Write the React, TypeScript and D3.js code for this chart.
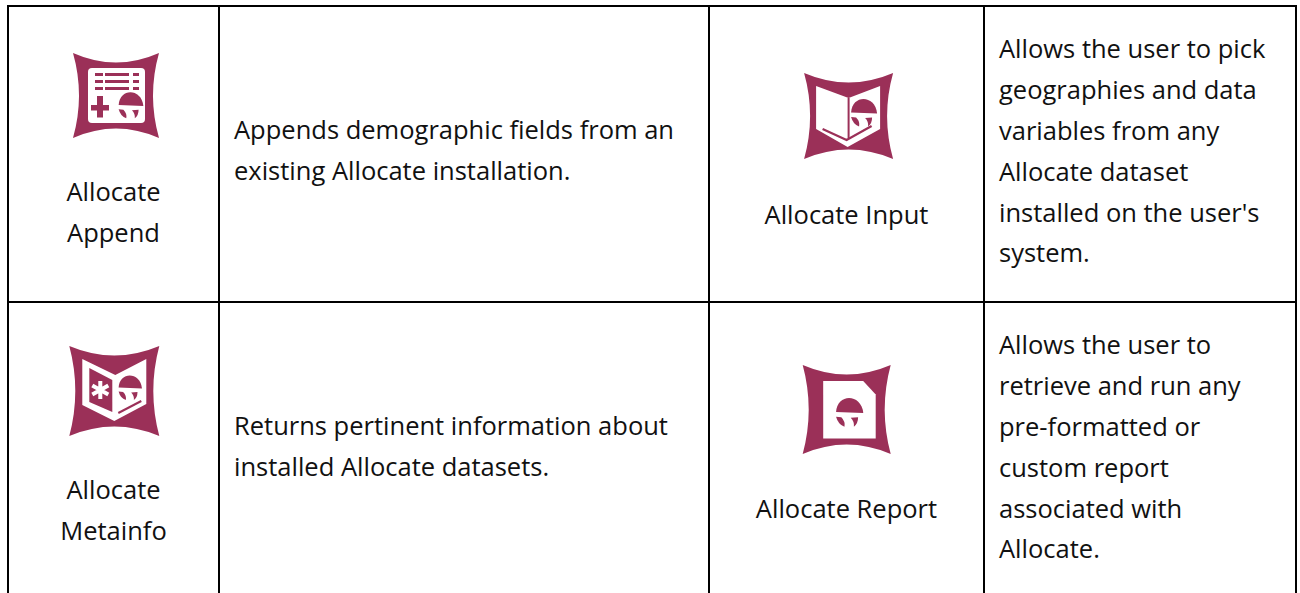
import React from "react";
import * as d3 from "d3";

const W = 1300, H = 593;
const colEdges = [0, 1, 2, 3, 4];
const colPixels = [8, 219, 709, 984, 1296];
const rowEdges = [0, 1, 2];
const rowPixels = [6, 302, 600];
const names = [["Allocate", "Append"], ["Allocate Input"], ["Allocate", "Metainfo"], ["Allocate Report"]];
const nameLineY = [[192, 233], [215], [490, 531], [509]];
const nameColumn = [0.5, 2.5, 0.5, 2.5];
const descriptions = [
  ["Appends demographic fields from an", "existing Allocate installation."],
  ["Allows the user to pick", "geographies and data", "variables from any", "Allocate dataset", "installed on the user's", "system."],
  ["Returns pertinent information about", "installed Allocate datasets."],
  ["Allows the user to", "retrieve and run any", "pre-formatted or", "custom report", "associated with", "Allocate."],
];
const descColumn = [1, 3, 1, 3];
const descFirstLineY = [130, 49, 426, 345];
const iconKinds = ["append", "input", "metainfo", "report"];
const iconCentres: [number, number][] = [[116, 95.5], [848.6, 116], [114.3, 391], [846.7, 409.5]];
const iconHalf: [number, number][] = [[43, 42.5], [44.5, 43], [45, 45], [44, 44.5]];

const MAROON = "#9b3058";
const LINE_H = 40.8;
const FONT = '"Open Sans", "Noto Sans", sans-serif';

const x = d3.scaleLinear().domain(colEdges).range(colPixels);
const y = d3.scaleLinear().domain(rowEdges).range(rowPixels);

function shield(hw: number, hh: number, bowX: number, bowY: number) {
  const p = d3.path();
  p.moveTo(-hw, -hh);
  p.quadraticCurveTo(0, -hh + bowY * 2, hw, -hh);
  p.quadraticCurveTo(hw - bowX * 2, 0, hw, hh);
  p.quadraticCurveTo(0, hh - bowY * 2, -hw, hh);
  p.quadraticCurveTo(-hw + bowX * 2, 0, -hw, -hh);
  p.closePath();
  return p.toString();
}

function poly(pts: [number, number][]) {
  return (d3.line()(pts) as string) + "Z";
}

function Mushroom({ cx, cy, s, fill }: { cx: number; cy: number; s: number; fill: string }) {
  const cap = d3.path();
  cap.moveTo(cx - 13 * s, cy);
  cap.bezierCurveTo(cx - 12 * s, cy - 18 * s, cx + 11 * s, cy - 18 * s, cx + 13 * s, cy + 1 * s);
  cap.closePath();
  const left = d3.path();
  left.moveTo(cx - 13 * s, cy + 4.5 * s);
  left.lineTo(cx - 8 * s, cy + 5 * s);
  left.quadraticCurveTo(cx - 4 * s, cy + 9 * s, cx - 5 * s, cy + 14 * s);
  left.quadraticCurveTo(cx - 11 * s, cy + 12 * s, cx - 13 * s, cy + 4.5 * s);
  left.closePath();
  const right = d3.path();
  right.moveTo(cx + 1 * s, cy + 5.5 * s);
  right.lineTo(cx + 8 * s, cy + 5 * s);
  right.quadraticCurveTo(cx + 8 * s, cy + 11 * s, cx + 4 * s, cy + 14 * s);
  right.quadraticCurveTo(cx + 4.5 * s, cy + 9 * s, cx + 1 * s, cy + 5.5 * s);
  right.closePath();
  return (
    <g fill={fill}>
      <path d={cap.toString()} />
      <path d={left.toString()} />
      <path d={right.toString()} />
    </g>
  );
}

function Icon({ kind, cx, cy, hw, hh }: { kind: string; cx: number; cy: number; hw: number; hh: number }) {
  return (
    <g transform={`translate(${cx},${cy})`}>
      <path d={shield(hw, hh, 6, 9.5)} fill={MAROON} />
      {kind === "append" && (
        <g>
          <rect x={-28} y={-27.5} width={57} height={55} rx={4} fill="#fff" />
          {[-22.5, -15.5, -8.5].map((ry) => (
            <g key={ry} fill={MAROON}>
              <rect x={-21} y={ry} width={8} height={3} />
              <rect x={-11} y={ry} width={24} height={3} />
              <rect x={17} y={ry} width={6} height={3} />
            </g>
          ))}
          <rect x={-25} y={9.5} width={18} height={5.5} fill={MAROON} />
          <rect x={-19} y={0.5} width={6} height={21.5} fill={MAROON} />
          <Mushroom cx={15} cy={9.5} s={0.95} fill={MAROON} />
        </g>
      )}
      {kind === "input" && (
        <g>
          <path d={poly([[-32.5, -30], [0, -18], [31.5, -30], [31.5, 13], [-1, 31], [-32.5, 13]])} fill="#fff" />
          <path d={poly([[-1, -18], [1, -18], [1, 22], [-1, 22]])} fill={MAROON} />
          <path d="M-26,13 L-2,24 L23,10" fill="none" stroke={MAROON} strokeWidth={2.2} />
          <Mushroom cx={15.5} cy={-3.5} s={1} fill={MAROON} />
        </g>
      )}
      {kind === "metainfo" && (
        <g>
          <path d={poly([[-32, -32], [1, -16], [32, -32], [32, 13], [0, 30], [-32, 14]])} fill="#fff" />
          <path d={poly([[-25, -23], [-2, -11], [-2, 21], [-25, 11]])} fill={MAROON} />
          <path d="M-14,-10 L-14,8 M-22,-5.5 L-6,3.5 M-22,3.5 L-6,-5.5" stroke="#fff" strokeWidth={4} fill="none" />
          <path d="M4,22 L27,10" fill="none" stroke={MAROON} strokeWidth={2} />
          <Mushroom cx={16} cy={-3.5} s={0.9} fill={MAROON} />
        </g>
      )}
      {kind === "report" && (
        <g>
          <path d={poly([[-23.5, -28.5], [16.5, -28.5], [29, -15], [29, 29], [-23.5, 29]])} fill="#fff" />
          <Mushroom cx={3} cy={2.5} s={1.05} fill={MAROON} />
        </g>
      )}
    </g>
  );
}

export default function App() {
  return (
    <svg width={W} height={H} style={{ position: "absolute", left: 0, top: 0, background: "#fff" }}>
      {colEdges.map((c) => (
        <line key={c} x1={x(c)} x2={x(c)} y1={y(0) - 1} y2={H} stroke="#000" strokeWidth={2} />
      ))}
      {rowEdges.slice(0, 2).map((r) => (
        <line key={r} x1={x(0) - 1} x2={x(4) + 1} y1={y(r)} y2={y(r)} stroke="#000" strokeWidth={2} />
      ))}
      {iconKinds.map((k, i) => (
        <Icon key={k} kind={k} cx={iconCentres[i][0]} cy={iconCentres[i][1]} hw={iconHalf[i][0]} hh={iconHalf[i][1]} />
      ))}
      <g fontFamily={FONT} fontSize={25.5} fill="#111">
        {names.map((lines, i) =>
          lines.map((t, j) => (
            <text key={t + i} x={x(nameColumn[i])} y={nameLineY[i][j] + 0.5} dy="0.35em" textAnchor="middle">{t}</text>
          ))
        )}
        {descriptions.map((lines, i) =>
          lines.map((t, j) => (
            <text key={t} x={x(descColumn[i]) + 15} y={descFirstLineY[i] + 0.5 + j * LINE_H} dy="0.35em">{t}</text>
          ))
        )}
      </g>
    </svg>
  );
}
